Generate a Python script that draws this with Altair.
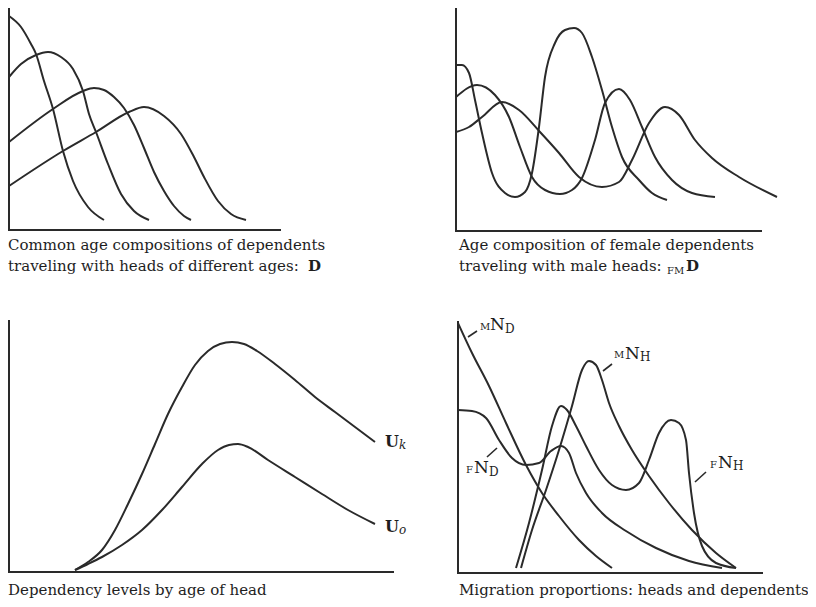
import altair as alt
import pandas as pd

INK = "#2a2a2a"
TXT = "#1e1e1e"
FONT = "DejaVu Serif"

# ---------------- Panel 1: age compositions of dependents (D) ----------------
d1_x = [0, 12, 22, 27, 35, 44, 54, 64, 79, 95]
d1_y = [214, 203, 186, 176, 149, 121, 79, 49, 23, 10]
d2_x = [0, 12, 27, 39, 52, 64, 74, 80, 87, 99, 112, 125, 140]
d2_y = [153, 166, 175, 178, 173, 161, 139, 116, 98, 66, 36, 19, 10]
d3_x = [0, 44, 74, 85, 95, 105, 115, 125, 135, 145, 155, 165, 175, 182]
d3_y = [88, 121, 139, 142, 140, 133, 122, 105, 82, 58, 39, 24, 14, 10]
d4_x = [0, 54, 87, 120, 135, 155, 172, 185, 195, 209, 222, 237]
d4_y = [44, 79, 98, 118, 123, 114, 96, 73, 53, 29, 16, 10]

# ---------------- Panel 2: female dependents with male heads (FMD) ----------------
f1_x = [0, 6, 13, 19, 26, 36, 49, 59, 69, 76, 83, 89, 99, 109, 118, 126, 136, 146, 156, 166, 183, 196, 211]
f1_y = [166, 166, 158, 131, 98, 58, 38, 34, 39, 58, 104, 154, 188, 201, 203, 198, 174, 141, 104, 74, 51, 38, 31]
f2_x = [0, 21, 39, 53, 64, 76, 89, 104, 116, 126, 139, 149, 163, 174, 186, 199, 216, 236, 259]
f2_y = [134, 146, 136, 114, 84, 54, 41, 37, 41, 53, 91, 128, 142, 131, 104, 74, 51, 38, 34]
f3_x = [0, 13, 26, 46, 63, 84, 103, 123, 146, 163, 176, 193, 209, 223, 239, 256, 283, 321]
f3_y = [99, 104, 114, 129, 121, 99, 78, 54, 44, 49, 71, 108, 124, 116, 91, 73, 54, 34]

# ---------------- Panel 3: dependency levels by age of head ----------------
uk_x = [66, 79, 93, 106, 119, 133, 146, 159, 173, 186, 199, 211, 223, 235, 248, 266, 286, 306, 326, 346, 366]
uk_y = [2, 10, 22, 42, 68, 98, 128, 158, 185, 207, 221, 228, 230, 228, 221, 208, 192, 175, 160, 145, 130]
uo_x = [66, 79, 93, 113, 133, 153, 173, 193, 209, 220, 229, 239, 259, 286, 313, 339, 366]
uo_y = [2, 8, 15, 27, 42, 62, 85, 108, 122, 127, 128, 125, 112, 95, 78, 62, 48]

# ---------------- Panel 4: migration proportions ----------------
mnd_x = [0, 14, 31, 48, 68, 84, 101, 121, 138, 154]
mnd_y = [250, 220, 187, 150, 108, 80, 57, 33, 17, 5]
fnd_x = [0, 14, 28, 41, 54, 68, 81, 93, 103, 111, 118, 128, 144, 168, 198, 231, 264]
fnd_y = [163, 162, 155, 133, 115, 108, 110, 122, 127, 120, 100, 80, 60, 42, 25, 12, 5]
mnh_x = [63, 74, 88, 101, 114, 124, 131, 138, 144, 151, 161, 174, 191, 211, 234, 258, 278]
mnh_y = [5, 43, 83, 123, 167, 203, 212, 208, 193, 170, 147, 123, 97, 70, 43, 20, 5]
fnh_x = [58, 71, 84, 94, 103, 109, 118, 128, 141, 154, 168, 181, 191, 201, 213, 221, 228, 231, 236, 244, 258, 278]
fnh_y = [5, 50, 103, 147, 167, 163, 147, 127, 103, 88, 83, 90, 113, 140, 153, 150, 133, 100, 60, 27, 10, 5]


def curves(named):
    rows = []
    for name, xs, ys in named:
        for i, (x, y) in enumerate(zip(xs, ys)):
            rows.append({"series": name, "x": x, "y": y, "i": i})
    return pd.DataFrame(rows)


def lines(df, xdom, xrange, ydom, yrange):
    return alt.Chart(df).mark_line(interpolate="monotone", color=INK, strokeWidth=2).encode(
        x=alt.X("x:Q", scale=alt.Scale(domain=xdom, range=xrange, nice=False, zero=False), axis=None),
        y=alt.Y("y:Q", scale=alt.Scale(domain=ydom, range=yrange, nice=False, zero=False), axis=None),
        detail="series:N",
        order="i:Q",
    )


ONE = alt.Data(values=[{}])


def txt(t, x, y, size=15, weight="normal", style="normal"):
    return alt.Chart(ONE).mark_text(
        text=t, font=FONT, fontSize=size, fontWeight=weight, fontStyle=style,
        align="left", baseline="alphabetic", color=TXT
    ).encode(x=alt.value(x), y=alt.value(y))


def rule(x1, y1, x2, y2, w=1.6):
    return alt.Chart(ONE).mark_rule(color=INK, strokeWidth=w).encode(
        x=alt.value(x1), y=alt.value(y1), x2=alt.value(x2), y2=alt.value(y2))


def axes(x0, top, base, right):
    return [rule(x0, top, x0, base + 1, w=2), rule(x0 - 1, base, right, base, w=2)]


# panel frames (pixels inside the 800x591 chart)
P1 = dict(x0=1, top=0, base=222, right=273)
P2 = dict(x0=448, top=0, base=223, right=754)
P3 = dict(x0=1, top=312, base=564, right=386)
P4 = dict(x0=450, top=313, base=565, right=755)

l1 = lines(curves([("a", d1_x, d1_y), ("b", d2_x, d2_y), ("c", d3_x, d3_y), ("d", d4_x, d4_y)]),
           [0, 272], [1, 273], [0, 222], [222, 0])
l2 = lines(curves([("1", f1_x, f1_y), ("2", f2_x, f2_y), ("3", f3_x, f3_y)]),
           [0, 306], [448, 754], [0, 223], [223, 0])
l3 = lines(curves([("Uk", uk_x, uk_y), ("Uo", uo_x, uo_y)]),
           [0, 385], [1, 386], [0, 252], [564, 312])
l4 = lines(curves([("MND", mnd_x, mnd_y), ("FND", fnd_x, fnd_y), ("MNH", mnh_x, mnh_y), ("FNH", fnh_x, fnh_y)]),
           [0, 305], [450, 755], [0, 252], [565, 313])

decor = []
for P in (P1, P2, P3, P4):
    decor += axes(P["x0"], P["top"], P["base"], P["right"])

decor += [
    # captions
    txt("Common age compositions of dependents", 0, 242),
    txt("traveling with heads of different ages:", 0, 263),
    txt("D", 300, 263, weight="bold"),
    txt("Age composition of female dependents", 451, 242),
    txt("traveling with male heads:", 451, 263),
    txt("FM", 659, 266, size=10),
    txt("D", 678, 263, weight="bold"),
    txt("Dependency levels by age of head", 0, 587),
    txt("Migration proportions:  heads and dependents", 451, 587),
    # panel 3 labels
    txt("U", 377, 439, size=16, weight="bold"),
    txt("k", 391, 441, size=12, style="italic"),
    txt("U", 377, 524, size=16, weight="bold"),
    txt("o", 391, 526, size=12, style="italic"),
    # panel 4 labels
    rule(460, 329, 469, 323), txt("M", 472, 322, size=10), txt("N", 482, 322, size=17), txt("D", 497, 325, size=12),
    rule(595, 363, 604, 356), txt("M", 606, 350, size=10), txt("N", 617, 351, size=17), txt("H", 632, 353, size=12),
    rule(479, 449, 489, 440), txt("F", 458, 465, size=10), txt("N", 466, 465, size=17), txt("D", 481, 468, size=12),
    rule(687, 474, 698, 464), txt("F", 702, 460, size=10), txt("N", 710, 460, size=17), txt("H", 725, 462, size=12),
]

chart = alt.layer(l1, l2, l3, l4, *decor).resolve_scale(
    x="independent", y="independent"
).properties(
    width=800, height=591, padding=0, background="white",
    autosize=alt.AutoSizeParams(type="none"),
).configure_view(strokeWidth=0)

chart.save("out.html", embed_options={"renderer": "svg", "actions": False})
